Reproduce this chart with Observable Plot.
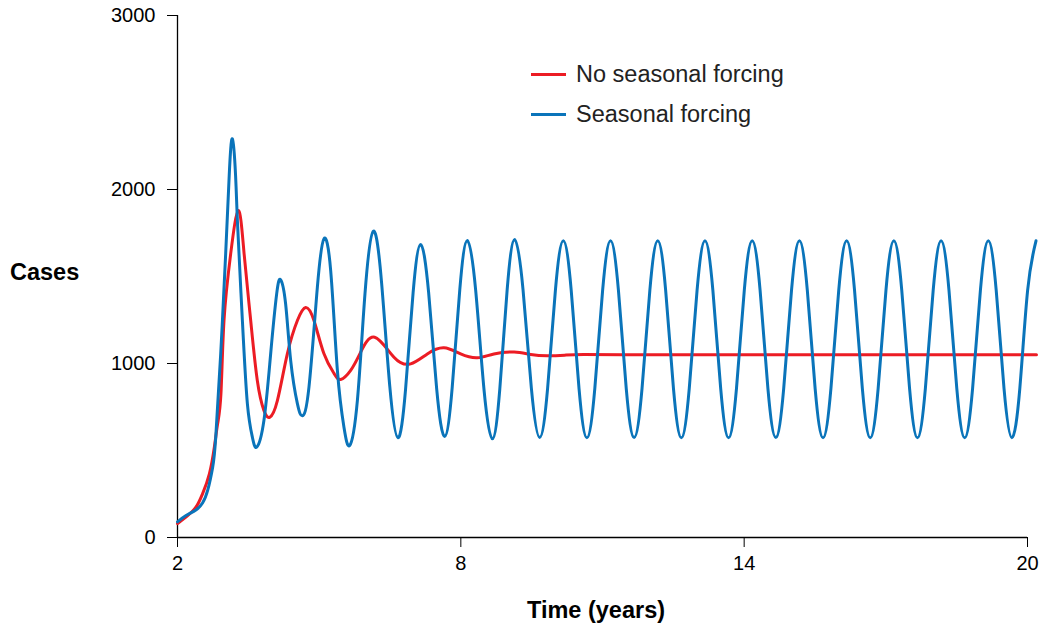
<!DOCTYPE html>
<html>
<head>
<meta charset="utf-8">
<script src="https://cdn.jsdelivr.net/npm/d3@7"></script>
<script src="https://cdn.jsdelivr.net/npm/@observablehq/plot@0.6"></script>
<style>
  html, body { margin: 0; padding: 0; background: #fff; }
  #wrap { position: relative; width: 1042px; height: 628px; font-family: "Liberation Sans", Arial, Helvetica, sans-serif; }
  .axlab { position: absolute; font-weight: bold; font-size: 23.5px; line-height: 24px; color: #000; white-space: nowrap; }
  .leg { position: absolute; font-size: 23.5px; line-height: 24px; color: #222; white-space: nowrap; display: flex; align-items: center; }
  .sw { display: inline-block; width: 35px; height: 3px; margin-right: 10px; }
</style>
</head>
<body>
<div id="wrap"></div>
<script>
// ---- data ----
const seriesNames = ["No seasonal forcing", "Seasonal forcing"];
const seriesColors = ["#ec1c24", "#0a74ba"];
const xTicks = [2, 8, 14, 20];
const yTicks = [0, 1000, 2000, 3000];

const noForcingYears = [2.00, 2.216, 2.39, 2.53, 2.675, 2.78, 2.85, 2.92, 2.985, 3.126, 3.289, 3.41, 3.55, 3.69, 3.83, 3.952,
  4.115, 4.327, 4.539, 4.714, 4.89, 5.10, 5.314, 5.455, 5.667, 5.879, 6.175, 6.584, 6.937, 7.29, 7.643, 7.996, 8.35, 8.70,
  9.13, 9.48, 9.83, 10.2, 10.6, 11.5, 12.5, 13.5, 14.5, 15.5, 16.5, 17.5, 18.5, 19.5, 20.19];
const noForcingCases = [80, 126, 174, 251, 366, 519, 653, 826, 1247, 1630, 1879, 1632, 1247, 902, 730, 691,
  787, 1057, 1247, 1322, 1247, 1057, 943, 908, 960, 1065, 1151, 1036, 998, 1055, 1090, 1055, 1033, 1055,
  1066, 1052, 1044, 1048, 1052, 1050, 1051, 1050, 1050, 1050, 1050, 1050, 1050, 1050, 1050];

const forcingYears = [2.00, 2.18, 2.39, 2.53, 2.64, 2.745, 2.81, 2.915, 3.02, 3.095, 3.162, 3.23, 3.268, 3.374, 3.48, 3.586, 3.677,
  3.83, 3.973, 4.10, 4.185, 4.29, 4.397, 4.54, 4.645, 4.784, 4.962, 5.102, 5.244, 5.386, 5.525, 5.646, 5.81, 5.97, 6.148,
  6.322, 6.495, 6.669, 6.829, 6.989, 7.149, 7.318, 7.488, 7.657, 7.817, 7.978, 8.138, 8.314, 8.49, 8.667, 8.825, 8.982, 9.14,
  9.316, 9.493, 9.669, 9.837, 10.003, 10.17, 10.337, 10.503, 10.67, 10.837, 11.003, 11.17, 11.337, 11.503, 11.67, 11.837, 12.003,
  12.17, 12.337, 12.503, 12.67, 12.837, 13.003, 13.17, 13.337, 13.503, 13.67, 13.837, 14.003, 14.17, 14.337, 14.503, 14.67,
  14.837, 15.003, 15.17, 15.337, 15.503, 15.67, 15.837, 16.003, 16.17, 16.337, 16.503, 16.67, 16.837, 17.003, 17.17, 17.337,
  17.503, 17.67, 17.837, 18.003, 18.17, 18.337, 18.503, 18.67, 18.837, 19.003, 19.17, 19.337, 19.503, 19.67, 19.837, 20.003, 20.18];
const forcingCases = [90, 126, 158, 198, 272, 404, 576, 1056, 1630, 2080, 2291, 2080, 1822, 1247, 768, 576, 519,
  672, 1056, 1400, 1481, 1342, 1017, 768, 700, 864, 1439, 1717, 1534, 960, 634, 529, 790, 1400, 1760,
  1464, 870, 573, 850, 1406, 1684, 1408, 856, 580, 862, 1425, 1707, 1422, 852, 567, 853, 1427, 1713,
  1428, 860, 575, 856, 1422, 1706, 1422, 856, 573, 856, 1422, 1705, 1422, 856, 574, 856, 1422,
  1706, 1422, 856, 573, 856, 1422, 1705, 1422, 856, 573, 856, 1422, 1706, 1422, 856, 574,
  856, 1422, 1705, 1422, 856, 573, 856, 1422, 1705, 1422, 856, 573, 856, 1422, 1706, 1422,
  856, 573, 856, 1422, 1705, 1422, 856, 573, 856, 1422, 1705, 1422, 856, 573, 856, 1422, 1705];

// ---- build tidy table ----
const rows = [];
noForcingYears.forEach((t, i) => rows.push({series: seriesNames[0], year: t, cases: noForcingCases[i]}));
forcingYears.forEach((t, i) => rows.push({series: seriesNames[1], year: t, cases: forcingCases[i]}));

const chart = Plot.plot({
  width: 1042,
  height: 628,
  marginLeft: 177,
  marginRight: 15,
  marginTop: 15,
  marginBottom: 91,
  style: {fontFamily: '"Liberation Sans", Arial, Helvetica, sans-serif', fontSize: "20px", color: "#000", background: "#fff", overflow: "visible"},
  x: {domain: [2, 20], ticks: xTicks, tickFormat: d => String(d), tickSize: 10, tickPadding: 8, label: null},
  y: {domain: [0, 3000], ticks: yTicks, tickFormat: d => String(d), tickSize: 10, tickPadding: 12, label: null},
  color: {domain: seriesNames, range: seriesColors},
  marks: [
    Plot.ruleX([2], {stroke: "#000", strokeWidth: 1.3}),
    Plot.ruleY([0], {stroke: "#000", strokeWidth: 1.3}),
    Plot.line(rows, {x: "year", y: "cases", z: "series", stroke: "series", strokeWidth: 3, curve: "natural", clip: false})
  ]
});
const wrap = document.getElementById("wrap");
wrap.appendChild(chart);

// axis titles
const yl = document.createElement("div");
yl.className = "axlab"; yl.textContent = "Cases";
yl.style.left = "10px"; yl.style.top = "260px";
wrap.appendChild(yl);
const xl = document.createElement("div");
xl.className = "axlab"; xl.textContent = "Time (years)";
xl.style.left = "527px"; xl.style.top = "598px";
wrap.appendChild(xl);

// legend
seriesNames.forEach((name, i) => {
  const d = document.createElement("div");
  d.className = "leg";
  d.style.left = "531px";
  d.style.top = (62 + i * 40) + "px";
  const sw = document.createElement("span");
  sw.className = "sw"; sw.style.background = seriesColors[i];
  d.appendChild(sw);
  d.appendChild(document.createTextNode(name));
  wrap.appendChild(d);
});
</script>
</body>
</html>
